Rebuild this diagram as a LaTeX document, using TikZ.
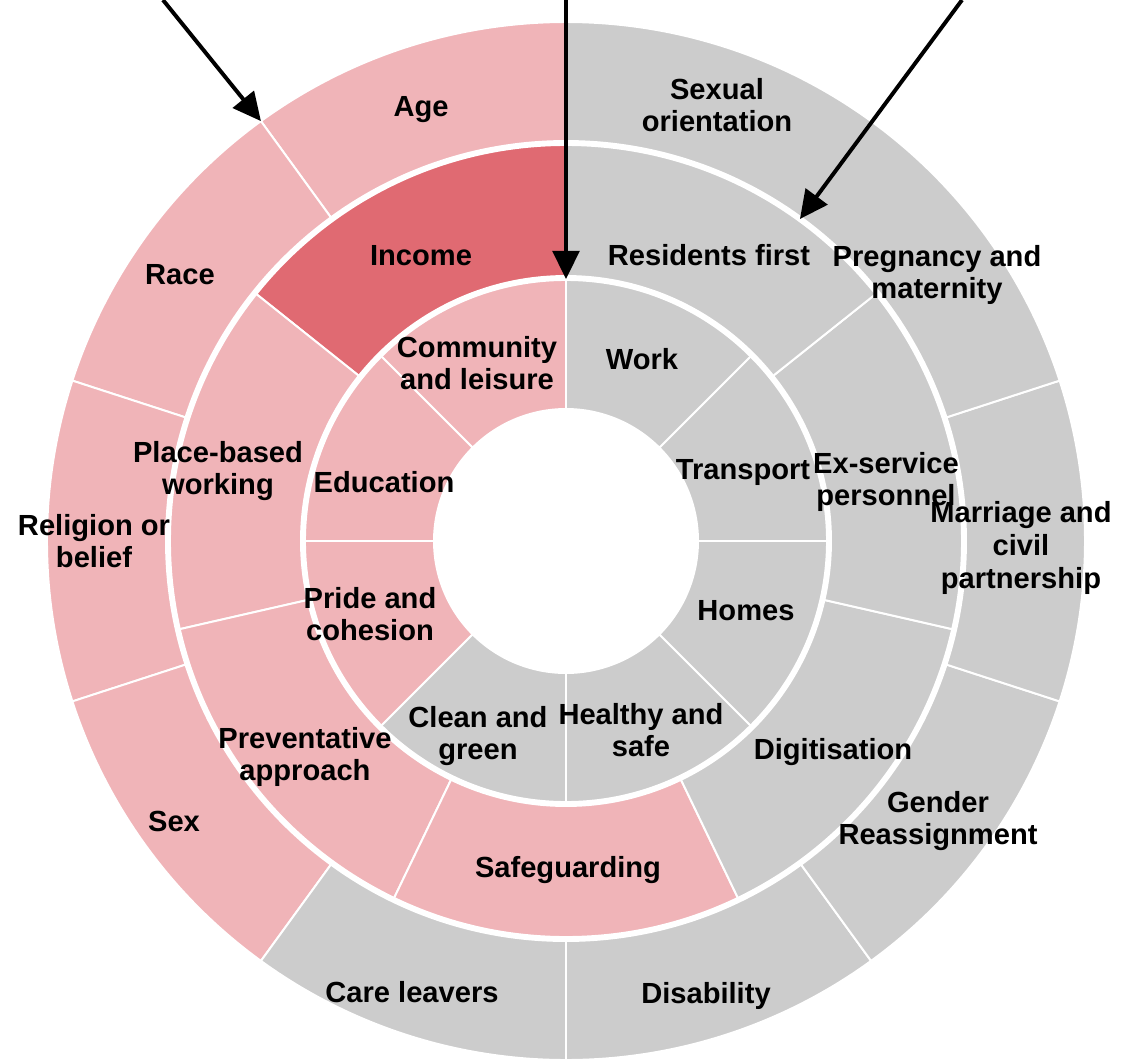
\documentclass[tikz,border=0pt]{standalone}
\usepackage{fontspec}
\setmainfont{Liberation Sans}
\usepackage{tikz}
\usetikzlibrary{arrows.meta}
\usepackage{xcolor}

\definecolor{pinkseg}{RGB}{240,180,184}
\definecolor{redseg}{RGB}{224,106,114}
\definecolor{greyseg}{RGB}{204,204,204}

% ring part: colour, start angle, end angle, inner radius, outer radius
\newcommand{\ringpart}[5]{%
  \filldraw[fill=#1, draw=white, line width=1.4pt] (#2:#4) arc[start angle=#2, end angle=#3, radius=#4]
    -- (#3:#5) arc[start angle=#3, end angle=#2, radius=#5] -- cycle;}

\tikzset{
  lbl/.style={align=center, text=black, font=\fontsize{20.7}{23.2}\selectfont\bfseries},
  arrowline/.style={line width=2.8pt, -{Triangle[length=20pt, width=19pt]}}
}

\begin{document}
\begin{tikzpicture}[x=0.025cm, y=0.025cm]
    \useasboundingbox (-566,-520) rectangle (556,541);

    % Inner ring
    \foreach \i/\c in {0/pinkseg,1/pinkseg,2/pinkseg,3/greyseg,4/greyseg,5/greyseg,6/greyseg,7/greyseg} {
        \pgfmathsetmacro\sa{90+45*\i}
        \pgfmathsetmacro\ea{\sa+45}
        \ringpart{\c}{\sa}{\ea}{132}{263}
    }

    % Middle ring
    \foreach \i/\c in {0/redseg,1/pinkseg,2/pinkseg,3/pinkseg,4/greyseg,5/greyseg,6/greyseg} {
        \pgfmathsetmacro\sa{90+360/7*\i}
        \pgfmathsetmacro\ea{\sa+360/7}
        \ringpart{\c}{\sa}{\ea}{263}{398}
    }

    % Outer ring
    \foreach \i/\c in {0/pinkseg,1/pinkseg,2/pinkseg,3/pinkseg,4/greyseg,5/greyseg,6/greyseg,7/greyseg,8/greyseg,9/greyseg} {
        \pgfmathsetmacro\sa{90+36*\i}
        \pgfmathsetmacro\ea{\sa+36}
        \ringpart{\c}{\sa}{\ea}{398}{519}
    }

    % Ring gaps and hole
    \draw[white, line width=4.2pt] (0,0) circle[radius=263];
    \draw[white, line width=4.2pt] (0,0) circle[radius=398];
    \fill[white] (0,0) circle[radius=132];

    % Labels inner ring
    \node[lbl] (community) at (-89,178) {Community\\and leisure};
    \node[lbl] (education) at (-182,59) {Education};
    \node[lbl] (pride) at (-196,-73) {Pride and\\cohesion};
    \node[lbl] (clean) at (-88,-195) {Clean and\\green};
    \node[lbl] (healthy) at (75,-189) {Healthy and\\safe};
    \node[lbl] (homes) at (180,-70) {Homes};
    \node[lbl] (transport) at (177,68) {Transport};
    \node[lbl] (work) at (76,182) {Work};

    % Labels middle ring
    \node[lbl] (income) at (-145,285) {Income};
    \node[lbl] (place) at (-348,70) {Place-based\\working};
    \node[lbl] (prevent) at (-261,-216) {Preventative\\approach};
    \node[lbl] (safeguard) at (2,-329) {Safeguarding};
    \node[lbl] (digit) at (267,-211) {Digitisation};
    \node[lbl] (exservice) at (320,59) {Ex-service\\personnel};
    \node[lbl] (residents) at (143,286) {Residents first};

    % Labels outer ring
    \node[lbl] (age) at (-145,431) {Age};
    \node[lbl] (race) at (-386,266) {Race};
    \node[lbl] (religion) at (-472,0) {Religion or\\belief};
    \node[lbl] (sex) at (-392,-280) {Sex};
    \node[lbl] (care) at (-154,-451) {Care leavers};
    \node[lbl] (disability) at (140,-455) {Disability};
    \node[lbl] (gender) at (372,-280) {Gender\\Reassignment};
    \node[lbl] (marriage) at (455,-7) {Marriage and\\civil\\partnership};
    \node[lbl] (pregnancy) at (371,266) {Pregnancy and\\maternity};
    \node[lbl] (sexual) at (151,436) {Sexual\\orientation};

    % Arrows
    \coordinate (outerStart) at (-403,541);
    \coordinate (outerTip) at (126:519);
    \coordinate (innerStart) at (0,541);
    \coordinate (innerTip) at (0,262);
    \coordinate (middleStart) at (396,541);
    \coordinate (middleTip) at (54:398);
    \draw[arrowline] (outerStart) -- (outerTip);
    \draw[arrowline] (innerStart) -- (innerTip);
    \draw[arrowline] (middleStart) -- (middleTip);
\end{tikzpicture}
\end{document}
